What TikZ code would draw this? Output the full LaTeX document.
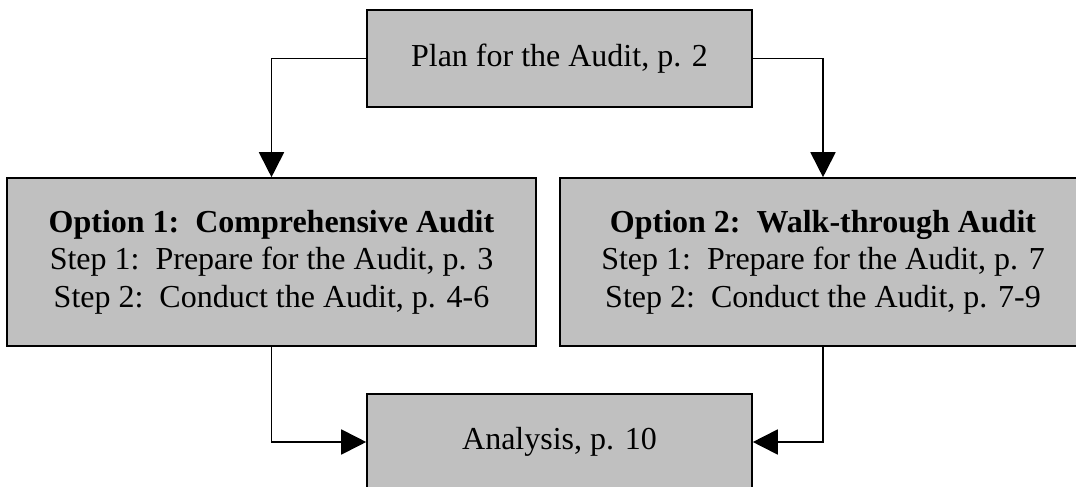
\documentclass[tikz,border=0pt]{standalone}
\usepackage{fontspec}
\setmainfont{Liberation Serif}
\usetikzlibrary{arrows.meta}
\definecolor{boxgray}{HTML}{C0C0C0}
\tikzset{
  box/.style={draw=black, line width=1.6pt, fill=boxgray, rectangle, inner sep=0pt,
    align=center, font=\fontsize{32}{37.5}\selectfont},
  conn/.style={draw=black, line width=1.8pt, -{Triangle[length=25pt,width=25pt]}}
}
\begin{document}
\begin{tikzpicture}[x=1pt,y=-1pt]
\useasboundingbox (0,0) rectangle (1076,487);
\node[box, minimum width=385pt, minimum height=97pt] (plan) at (559.5,58.5) {Plan for the Audit, p. 2};
\node[box, minimum width=529pt, minimum height=168pt] (opt1) at (271.5,262)
  {\textbf{Option 1:\ \ Comprehensive Audit}\\Step 1:\ \ Prepare for the Audit, p. 3\\Step 2:\ \ Conduct the Audit, p. 4-6};
\node[box, minimum width=526pt, minimum height=168pt] (opt2) at (823,262)
  {\textbf{Option 2:\ \ Walk-through Audit}\\Step 1:\ \ Prepare for the Audit, p. 7\\Step 2:\ \ Conduct the Audit, p. 7-9};
\node[box, minimum width=385pt, minimum height=96pt] (ana) at (559.5,442) {Analysis, p. 10};
\draw[conn] (plan.west) -| (opt1.north);
\draw[conn] (plan.east) -| (opt2.north);
\draw[conn] (opt1.south) |- (ana.west);
\draw[conn] (opt2.south) |- (ana.east);
\end{tikzpicture}
\end{document}
